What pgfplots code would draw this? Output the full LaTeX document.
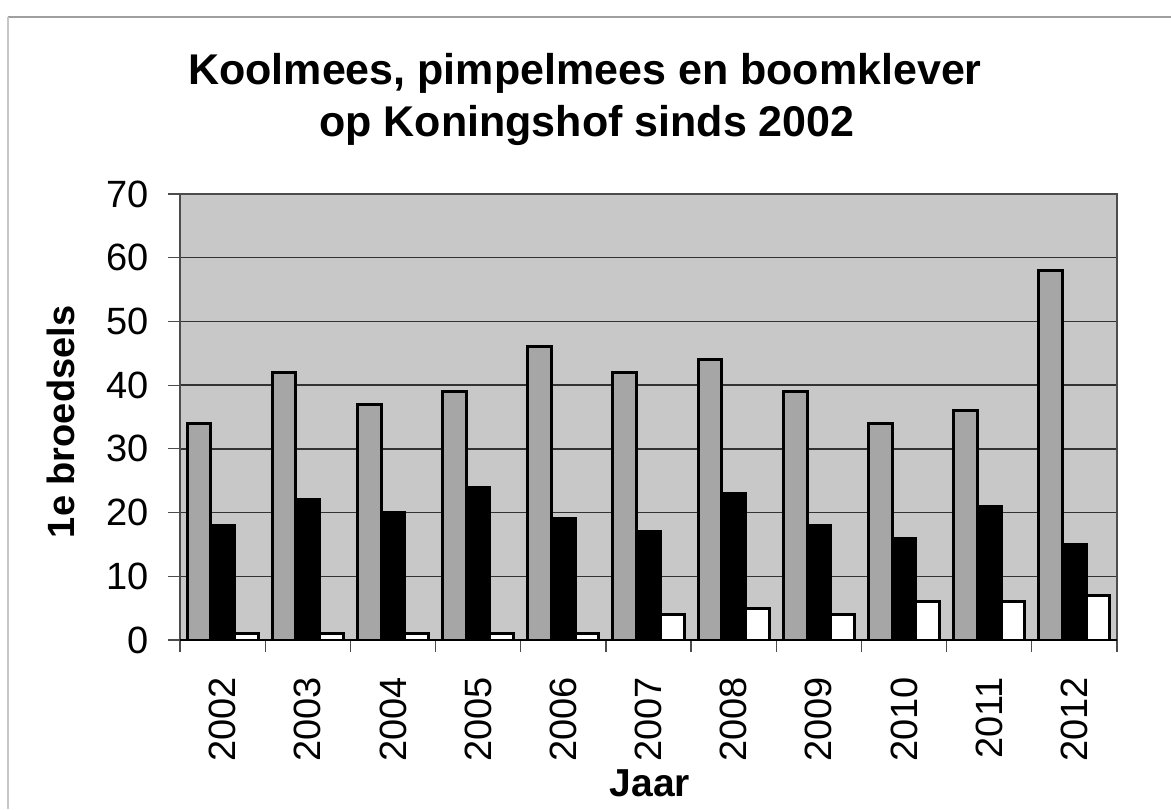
\documentclass[border=0pt]{standalone}
\usepackage{fontspec}
\setmainfont{Liberation Sans}
\usepackage{pgfplots}
\pgfplotsset{compat=1.18}
\definecolor{plotbg}{RGB}{200,200,200}
\definecolor{barg}{RGB}{166,166,166}
\begin{document}
\begin{tikzpicture}
\useasboundingbox (0pt,0pt) rectangle (585.5pt,404.5pt);
\draw[gray!75, line width=0.9pt] (4pt,396pt) -- (585.5pt,396pt);
\draw[gray!45, line width=0.7pt] (4pt,396pt) -- (4pt,0pt);
\node[font=\fontsize{21.5}{26}\selectfont\bfseries, anchor=base] at (292.5pt,362pt) {Koolmees, pimpelmees en boomklever};
\node[font=\fontsize{21.5}{26}\selectfont\bfseries, anchor=base] at (293.5pt,336pt) {op Koningshof sinds 2002};
\begin{axis}[
  at={(90pt,84.5pt)}, anchor=south west,
  scale only axis, width=468.5pt, height=223pt,
  xmin=-0.5, xmax=10.5, ymin=0, ymax=70,
  ytick={0,10,...,70},
  xtick={-0.5,0.5,...,10.5},
  x tick label as interval=true,
  xticklabels={2002,2003,2004,2005,2006,2007,2008,2009,2010,2011,2012},
  tick align=outside, major tick length=6pt,
  tick style={gray!60!black, line width=0.6pt},
  xtick pos=bottom, ytick pos=left,
  /pgf/number format/assume math mode=true,
  yticklabel style={font=\fontsize{19}{22}\selectfont},
  yticklabel shift=6pt,
  xticklabel style={font=\fontsize{19}{22}\selectfont, rotate=90, anchor=east},
  xticklabel shift=9pt,
  ymajorgrids, grid style={black!80, line width=0.7pt},
  axis background/.style={fill=plotbg},
  axis line style={gray!60!black, line width=0.6pt},
  ylabel={1e broedsels}, xlabel={Jaar},
  ylabel style={font=\fontsize{19}{22}\selectfont\bfseries, at={(axis description cs:-0.127,0.489)}, anchor=center},
  xlabel style={font=\fontsize{19.5}{22}\selectfont\bfseries, at={(axis description cs:0.5016,-0.351)}, anchor=base},
  ybar=0pt, bar width=11.85pt,
  after end axis/.code={\draw[black, line width=1pt] (rel axis cs:0,0) -- (rel axis cs:1,0);},
]
\addplot[fill=barg, draw=black, line width=1.5pt] coordinates {(0,34) (1,42) (2,37) (3,39) (4,46) (5,42) (6,44) (7,39) (8,34) (9,36) (10,58)};
\addplot[fill=black, draw=black, line width=1.5pt] coordinates {(0,18) (1,22) (2,20) (3,24) (4,19) (5,17) (6,23) (7,18) (8,16) (9,21) (10,15)};
\addplot[fill=white, draw=black, line width=1.5pt] coordinates {(0,1) (1,1) (2,1) (3,1) (4,1) (5,4) (6,5) (7,4) (8,6) (9,6) (10,7)};
\end{axis}
\end{tikzpicture}
\end{document}
